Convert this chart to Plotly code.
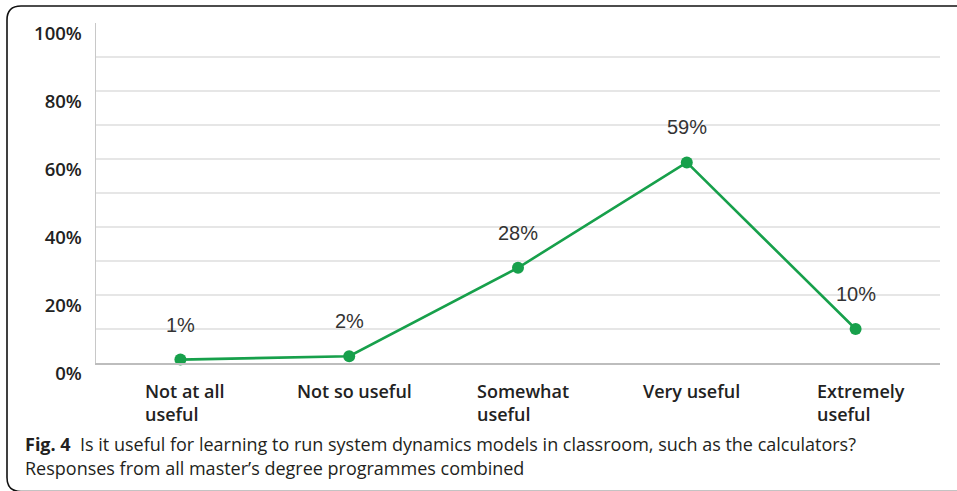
import plotly.graph_objects as go

categories = ["Not at all<br>useful", "Not so useful", "Somewhat<br>useful", "Very useful", "Extremely<br>useful"]
values = [1, 2, 28, 59, 10]
value_labels = ["1%", "2%", "28%", "59%", "10%"]
y_ticks = [0, 20, 40, 60, 80, 100]
y_tick_text = ["0%", "20%", "40%", "60%", "80%", "100%"]
grid_vals = [10, 20, 30, 40, 50, 60, 70, 80, 90]
caption_bold = "Fig. 4"
caption_line1 = "Is it useful for learning to run system dynamics models in classroom, such as the calculators?"
caption_line2 = "Responses from all master\u2019s degree programmes combined"

W, H = 957, 491
ML, MR, MT, MB = 96, 17, 23, 128
PW, PH = W - ML - MR, H - MT - MB

def px(x):
    return (x - ML) / PW

def py(y):
    return 1 - (y - MT) / PH

x = list(range(len(categories)))

fig = go.Figure()
fig.add_trace(go.Scatter(
    x=x, y=values, mode="lines+markers",
    line=dict(color="#17a04b", width=2.6),
    marker=dict(color="#17a04b", size=12),
    hoverinfo="skip", showlegend=False, cliponaxis=False,
))

annotations = []
for i, (v, t) in enumerate(zip(values, value_labels)):
    annotations.append(dict(
        x=i, y=v, xref="x", yref="y", text=t, showarrow=False,
        yshift=35, yanchor="middle", xanchor="center",
        font=dict(family="Liberation Sans, Arial", size=20, color="#333333"),
    ))
for i, c in enumerate(categories):
    annotations.append(dict(
        x=i, y=0, xref="x", yref="paper", text=c, showarrow=False,
        align="left", xanchor="center", yanchor="top", xshift=5, yshift=-14,
        font=dict(family="Open Sans", size=18, color="#222222", weight=600),
    ))
annotations.append(dict(
    x=px(23), y=py(444), xref="paper", yref="paper", showarrow=False,
    xanchor="left", yanchor="middle", align="left",
    text="<b>" + caption_bold + "</b>  " + caption_line1,
    font=dict(family="Open Sans", size=18, color="#231f20"),
))
annotations.append(dict(
    x=px(23), y=py(468), xref="paper", yref="paper", showarrow=False,
    xanchor="left", yanchor="middle", align="left",
    text=caption_line2,
    font=dict(family="Open Sans", size=18, color="#231f20"),
))

# rounded frame
r = 14
L, T, B, R = 7, 6, 491.5, 957
frame_line = dict(color="#111111", width=1.6)
path = (f"M {px(L + r)},{py(T)} "
        f"Q {px(L)},{py(T)} {px(L)},{py(T + r)} "
        f"L {px(L)},{py(B - r)} Q {px(L)},{py(B)} {px(L + r)},{py(B)}")
shapes = [
    dict(type="path", path=path, xref="paper", yref="paper", line=frame_line, layer="above"),
    dict(type="line", x0=px(L + r), x1=px(R), y0=py(T), y1=py(T),
         xref="paper", yref="paper", line=frame_line, layer="above"),
    dict(type="line", x0=px(L + r), x1=px(R), y0=py(B), y1=py(B),
         xref="paper", yref="paper", line=frame_line, layer="above"),
]

fig.update_layout(
    width=W, height=H,
    margin=dict(l=ML, r=MR, t=MT, b=MB, autoexpand=False),
    paper_bgcolor="white", plot_bgcolor="white",
    annotations=annotations, shapes=shapes,
    xaxis=dict(range=[-0.5, 4.5], showgrid=False, zeroline=False,
               showticklabels=False, ticks="", automargin=False,
               showline=True, linecolor="#bdbdbd", linewidth=2),
    yaxis=dict(range=[0, 100], tickvals=y_ticks, ticktext=y_tick_text,
               showgrid=False, zeroline=False, ticks="", automargin=False,
               showline=True, linecolor="#c8c8c8", linewidth=1.5,
               ticklabelstandoff=9, ticklabelshift=11,
               tickfont=dict(family="Open Sans", size=18.5, color="#222222", weight=600),
               minor=dict(tickvals=grid_vals, showgrid=True,
                          gridcolor="#e6e6e6", gridwidth=1.5, ticks="")),
)

fig.write_html("out.html", config={"displayModeBar": False, "staticPlot": True},
               post_script="document.body.style.margin='0';")
